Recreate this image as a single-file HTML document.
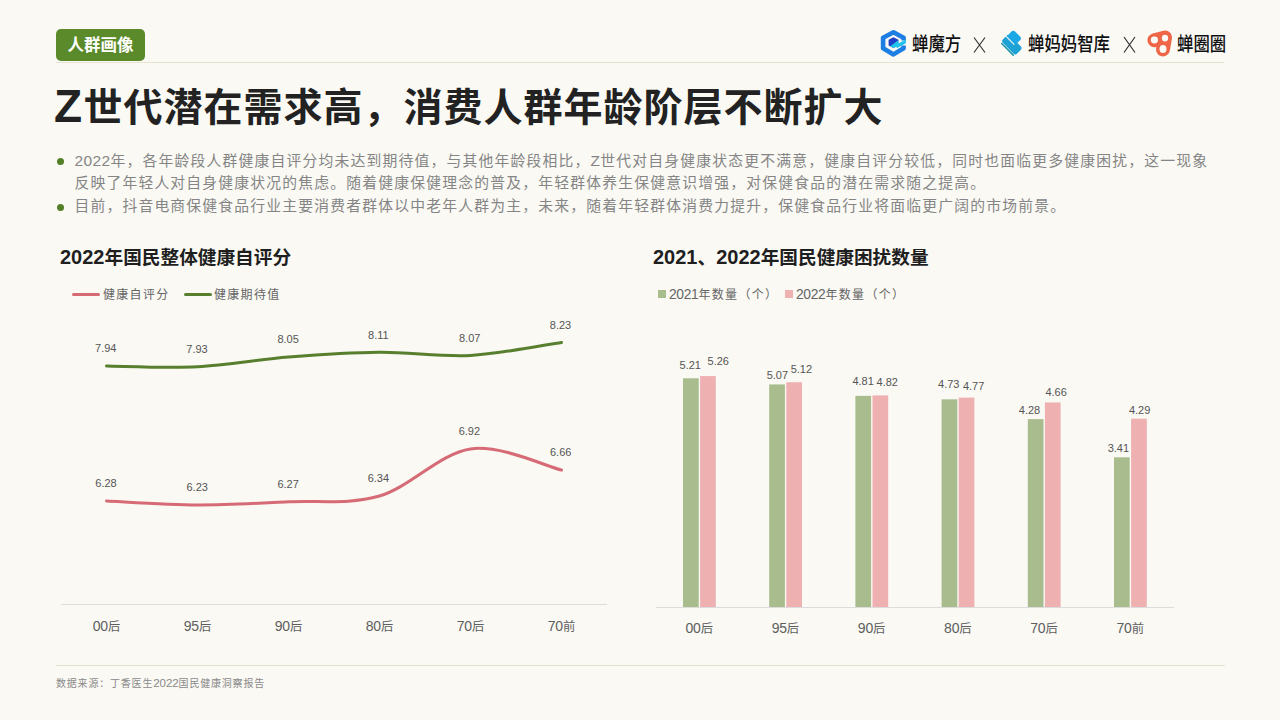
<!DOCTYPE html>
<html><head><meta charset="utf-8">
<style>
*{margin:0;padding:0;box-sizing:border-box}
html,body{width:1280px;height:720px;overflow:hidden;background:#faf9f4}
body{position:relative;font-family:"Liberation Sans", "Noto Sans CJK SC", sans-serif;color:#333}
.abs{position:absolute;white-space:nowrap}
.badge{left:56px;top:29px;width:89px;height:32px;border-radius:5px;background:#5b8a2a;color:#fff;font-weight:700;font-size:16.5px;line-height:32px;text-align:center}
.hline{left:56px;top:62px;width:1168px;height:1px;background:#e6e3d2}
.title{left:54px;top:86px;font-size:39px;line-height:44px;font-weight:700;color:#222;letter-spacing:1px}
.title .z{font-size:46px;font-weight:700;display:inline-block;width:29.5px;vertical-align:top;line-height:44px;position:relative;top:-2px}
.bul{left:74.4px;font-size:14.8px;letter-spacing:1.2px;line-height:23px;color:#858585;font-weight:400}
.bul .d{font-size:15.5px;letter-spacing:0.4px}
.dot{width:7px;height:7px;border-radius:50%;background:#527f28}
.ct{font-size:18.67px;font-weight:700;color:#1f1f1f;line-height:22px}
.ct .d{font-size:20px}
.lg{font-size:12px;letter-spacing:1.3px;color:#666;line-height:16px;font-weight:400}
.lg .d{font-size:13.8px;letter-spacing:-0.3px}
.foot{left:56px;top:676px;font-size:10px;letter-spacing:0.8px;color:#8a8a8a;line-height:14px}
.foot .d{font-size:11.6px;letter-spacing:-0.1px}
svg text.dl{font-size:11px;fill:#555;text-anchor:middle;font-family:"Liberation Sans", "Noto Sans CJK SC", sans-serif}
svg text.cl{font-size:12.3px;fill:#5e5e5e;text-anchor:middle;font-family:"Liberation Sans", "Noto Sans CJK SC", sans-serif;font-weight:400}
svg tspan.cd{font-size:14px;letter-spacing:-0.2px}
.lt{font-size:19.5px;color:#111;line-height:20px;font-weight:500;transform-origin:0 0}
</style></head><body>
<div class="abs hline"></div>
<div class="abs badge">人群画像</div>
<div class="abs title"><span class="z">Z</span>世代潜在需求高，消费人群年龄阶层不断扩大</div>
<div class="abs dot" style="left:57px;top:158px"></div>
<div class="abs bul" style="top:149px"><span class="d">2022</span>年，各年龄段人群健康自评分均未达到期待值，与其他年龄段相比，<span class="d">Z</span>世代对自身健康状态更不满意，健康自评分较低，同时也面临更多健康困扰，这一现象</div>
<div class="abs bul" style="top:172px">反映了年轻人对自身健康状况的焦虑。随着健康保健理念的普及，年轻群体养生保健意识增强，对保健食品的潜在需求随之提高。</div>
<div class="abs dot" style="left:57px;top:204px"></div>
<div class="abs bul" style="top:195px">目前，抖音电商保健食品行业主要消费者群体以中老年人群为主，未来，随着年轻群体消费力提升，保健食品行业将面临更广阔的市场前景。</div>
<div class="abs ct" style="left:60px;top:246px"><span class="d">2022</span>年国民整体健康自评分</div>
<div class="abs ct" style="left:653px;top:246px"><span class="d">2021</span>、<span class="d">2022</span>年国民健康困扰数量</div>
<div class="abs" style="left:72px;top:293px;width:28px;height:3px;border-radius:2px;background:#d66b76"></div>
<div class="abs lg" style="left:103px;top:287px">健康自评分</div>
<div class="abs" style="left:184px;top:293px;width:28px;height:3px;border-radius:2px;background:#587f2e"></div>
<div class="abs lg" style="left:214px;top:287px">健康期待值</div>
<div class="abs" style="left:658px;top:290px;width:8px;height:8px;background:#a8bc8d"></div>
<div class="abs lg" style="left:669px;top:287px"><span class="d">2021</span>年数量（个）</div>
<div class="abs" style="left:785px;top:290px;width:8px;height:8px;background:#efb0b2"></div>
<div class="abs lg" style="left:796px;top:287px"><span class="d">2022</span>年数量（个）</div>
<div class="abs" style="left:56px;top:665px;width:1169px;height:1px;background:#e6e3d2"></div>
<div class="abs foot">数据来源：丁香医生<span class="d">2022</span>国民健康洞察报告</div>
<div class="abs lt" style="left:912px;top:34px;transform:scaleX(0.84)">蝉魔方</div>
<div class="abs lt" style="left:1028px;top:34px;transform:scaleX(0.84)">蝉妈妈智库</div>
<div class="abs lt" style="left:1177px;top:34px;transform:scaleX(0.84)">蝉圈圈</div>
<svg class="abs" style="left:0;top:0" width="1280" height="720" viewBox="0 0 1280 720">
<line x1="61" y1="604.5" x2="607" y2="604.5" stroke="#dcdcdc" stroke-width="1"/>
<path d="M106.50,365.98 C121.67,366.11 167.17,368.28 197.50,366.79 C227.83,365.30 258.17,359.47 288.50,357.03 C318.83,354.60 349.17,352.43 379.50,352.16 C409.83,351.89 440.17,357.04 470.50,355.41 C500.83,353.78 546.33,344.57 561.50,342.40" fill="none" stroke="#587f2e" stroke-width="3" stroke-linecap="round"/>
<path d="M106.50,500.94 C121.67,501.61 167.17,504.87 197.50,505.00 C227.83,505.14 258.17,503.24 288.50,501.75 C318.83,500.26 349.17,504.87 379.50,496.06 C409.83,487.25 440.17,453.24 470.50,448.90 C500.83,444.57 546.33,466.52 561.50,470.04" fill="none" stroke="#d66b76" stroke-width="3" stroke-linecap="round"/>
<text x="105.8" y="351.9" class="dl">7.94</text>
<text x="106.0" y="487.1" class="dl">6.28</text>
<text x="197.0" y="353.2" class="dl">7.93</text>
<text x="197.2" y="490.9" class="dl">6.23</text>
<text x="288.1" y="343.1" class="dl">8.05</text>
<text x="288.1" y="487.9" class="dl">6.27</text>
<text x="378.4" y="339.1" class="dl">8.11</text>
<text x="378.4" y="481.9" class="dl">6.34</text>
<text x="469.7" y="341.9" class="dl">8.07</text>
<text x="469.4" y="435.0" class="dl">6.92</text>
<text x="560.5" y="329.1" class="dl">8.23</text>
<text x="560.7" y="456.0" class="dl">6.66</text>
<text x="106.5" y="630.8" class="cl"><tspan class="cd">00</tspan>后</text>
<text x="197.5" y="630.8" class="cl"><tspan class="cd">95</tspan>后</text>
<text x="288.5" y="630.8" class="cl"><tspan class="cd">90</tspan>后</text>
<text x="379.5" y="630.8" class="cl"><tspan class="cd">80</tspan>后</text>
<text x="470.5" y="630.8" class="cl"><tspan class="cd">70</tspan>后</text>
<text x="561.5" y="630.8" class="cl"><tspan class="cd">70</tspan>前</text>
<rect x="683.00" y="378.28" width="15.7" height="228.72" fill="#a8bc8d"/>
<rect x="700.10" y="376.09" width="15.7" height="230.91" fill="#efb0b2"/>
<text x="690.3" y="369.0" class="dl">5.21</text>
<text x="718.3" y="365.0" class="dl">5.26</text>
<text x="699.2" y="632.8" class="cl"><tspan class="cd">00</tspan>后</text>
<rect x="769.20" y="384.43" width="15.7" height="222.57" fill="#a8bc8d"/>
<rect x="786.30" y="382.23" width="15.7" height="224.77" fill="#efb0b2"/>
<text x="777.4" y="379.0" class="dl">5.07</text>
<text x="801.4" y="373.1" class="dl">5.12</text>
<text x="785.4" y="632.8" class="cl"><tspan class="cd">95</tspan>后</text>
<rect x="855.40" y="395.84" width="15.7" height="211.16" fill="#a8bc8d"/>
<rect x="872.50" y="395.40" width="15.7" height="211.60" fill="#efb0b2"/>
<text x="863.1" y="385.0" class="dl">4.81</text>
<text x="887.3" y="385.9" class="dl">4.82</text>
<text x="871.6" y="632.8" class="cl"><tspan class="cd">90</tspan>后</text>
<rect x="941.60" y="399.35" width="15.7" height="207.65" fill="#a8bc8d"/>
<rect x="958.70" y="397.60" width="15.7" height="209.40" fill="#efb0b2"/>
<text x="948.8" y="387.8" class="dl">4.73</text>
<text x="973.6" y="390.0" class="dl">4.77</text>
<text x="957.8" y="632.8" class="cl"><tspan class="cd">80</tspan>后</text>
<rect x="1027.80" y="419.11" width="15.7" height="187.89" fill="#a8bc8d"/>
<rect x="1044.90" y="402.43" width="15.7" height="204.57" fill="#efb0b2"/>
<text x="1029.5" y="414.0" class="dl">4.28</text>
<text x="1056.1" y="395.6" class="dl">4.66</text>
<text x="1044.0" y="632.8" class="cl"><tspan class="cd">70</tspan>后</text>
<rect x="1114.00" y="457.30" width="15.7" height="149.70" fill="#a8bc8d"/>
<rect x="1131.10" y="418.67" width="15.7" height="188.33" fill="#efb0b2"/>
<text x="1118.4" y="451.9" class="dl">3.41</text>
<text x="1139.6" y="413.8" class="dl">4.29</text>
<text x="1130.2" y="632.8" class="cl"><tspan class="cd">70</tspan>前</text>
<line x1="656" y1="607.5" x2="1174" y2="607.5" stroke="#dcdcdc" stroke-width="1"/>

<g>
  <path d="M903.6,40.6 L903.6,37.8 L893.5,32.2 L883.1,37.8 L883.1,48.3 L893.5,54.4 L903.6,48.3 L903.6,45.4" fill="none" stroke="#1d7fe4" stroke-width="4.6" stroke-linejoin="round"/>
  <path d="M888.6,39.8 L893.5,37.2 L898.4,39.8 L898.4,45.4 L893.5,48 L888.6,45.4 Z" fill="#2140c8"/>
  <path d="M898.4,40.2 L898.4,45.4 L893.5,48 L890.2,46.2 Z" fill="#1ec6ea"/>
  <path d="M894.5,45.6 L905.9,39.4 L905.9,43.2 L897.2,48 Z" fill="#22c0ec"/>
</g>
<g transform="translate(1011.5,43) rotate(-45)">
  <rect x="-6" y="-8.6" width="10.2" height="20" rx="2.6" fill="#1ea2d6"/>
  <rect x="1.4" y="-8.1" width="9.2" height="12.2" rx="2.6" fill="#1ba8e6"/>
  <rect x="0.3" y="-9.5" width="1.1" height="12.6" fill="#faf9f4"/>
  <rect x="-8.1" y="-7.4" width="1.6" height="18" rx="0.8" fill="#1e97ae"/>
</g>
<g>
  <path d="M1154.4,40.2 L1165,37.6 L1163,49.4" fill="#ee6548" stroke="#ee6548" stroke-width="14" stroke-linejoin="round" stroke-linecap="round"/>
  <ellipse cx="1154.4" cy="40" rx="3.6" ry="3.4" fill="#faf9f4"/>
  <ellipse cx="1165" cy="38.1" rx="3.2" ry="3.4" fill="#faf9f4"/>
  <ellipse cx="1163" cy="49" rx="3.5" ry="4" fill="#faf9f4"/>
</g>

<path d="M974,37.5 L985,52.5 M985,37.5 L974,52.5" stroke="#333" stroke-width="1.2" fill="none"/>
<path d="M1124,37 L1135,52.5 M1135,37 L1124,52.5" stroke="#333" stroke-width="1.2" fill="none"/>
</svg>
</body></html>
